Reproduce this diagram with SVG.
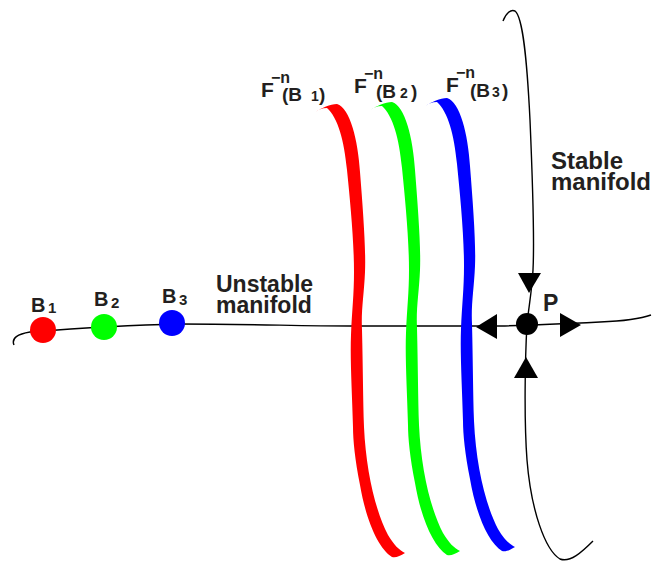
<svg xmlns="http://www.w3.org/2000/svg" xmlns:xlink="http://www.w3.org/1999/xlink" width="663" height="563" viewBox="0 0 663 563">
<style>
text{font-family:"Liberation Sans",Arial,Helvetica,sans-serif;font-weight:bold;fill:#231f20}
.line{fill:none;stroke:#000;stroke-width:1.4}
.arr{fill:#000}
</style>
<defs>
<path id="band" d="M315,112 C322,108 330,104 337,104 C350,108 358,140 360,172 C363,210 366,250 365,272 C364,295 361,310 362,330 C363,370 363,400 364,427 C366,470 375,510 388,535 C394,545 399,550 405,553 C400,556 396,558 392,557 C378,548 366,520 360,485 C355,460 353,440 353,427 C352,390 350,360 351,335 C352,310 354,295 354,272 C354,240 350,200 347,170 C344,140 338,118 327,108 C322,108 318,110 315,112 Z"/>
</defs>
<rect width="663" height="563" fill="#fff"/>
<g id="connectors">
<path class="line" d="M14,345 C11,338 18,334 30,332 C80,328 130,325 180,324 C250,324 300,326 350,326 L500,326 C540,325 560,324 600,322 C625,321 640,319 651,315"/>
<path class="line" d="M503,21 C506,13 511,9 515,11 C523,17 527,60 530,120 C533,190 534,250 533,270 C532,290 529,305 527,324 C525,360 524,420 527,460 C531,510 545,550 560,559 C570,563 582,552 593,541"/>
</g>
<g id="band-B1"><use xlink:href="#band" href="#band" fill="#ff0000"/></g>
<g id="band-B2"><use xlink:href="#band" href="#band" fill="#00ff00" transform="translate(55,-2)"/></g>
<g id="band-B3"><use xlink:href="#band" href="#band" fill="#0000ff" transform="translate(110,-6)"/></g>
<g id="arrows">
<polygon class="arr" points="476,327 497,314 497,339"/>
<polygon class="arr" points="581,325 560,313 560,337"/>
<polygon class="arr" points="529,293 518,273 541,273"/>
<polygon class="arr" points="526,357 514,378 538,378"/>
</g>
<g id="P"><circle cx="527" cy="324" r="11" fill="#000"/><text x="543" y="311" font-size="23">P</text></g>
<g id="B1"><circle cx="43" cy="330" r="13" fill="#ff0000"/><text x="31" y="312" font-size="20">B</text><text x="48" y="313" font-size="15">1</text></g>
<g id="B2"><circle cx="104" cy="327" r="13" fill="#00ff00"/><text x="94" y="306" font-size="20">B</text><text x="111" y="308" font-size="15">2</text></g>
<g id="B3"><circle cx="172" cy="323" r="13" fill="#0000ff"/><text x="162" y="303" font-size="20">B</text><text x="179" y="305" font-size="15">3</text></g>
<g id="label-F1"><text x="261" y="97" font-size="21">F</text><text x="271" y="83" font-size="16">−n</text><text x="282" y="101" font-size="19">(B</text><text x="311" y="101" font-size="14">1</text><text x="319" y="101" font-size="19">)</text></g>
<g id="label-F2"><text x="354" y="93" font-size="21">F</text><text x="364" y="79" font-size="16">−n</text><text x="376" y="98" font-size="19">(B</text><text x="400" y="98" font-size="14">2</text><text x="411" y="98" font-size="19">)</text></g>
<g id="label-F3"><text x="446" y="92" font-size="21">F</text><text x="456" y="78" font-size="16">−n</text><text x="470" y="97" font-size="19">(B</text><text x="492" y="97" font-size="14">3</text><text x="502" y="97" font-size="19">)</text></g>
<g id="unstable-label"><text x="216" y="292" font-size="23">Unstable</text><text x="216" y="313" font-size="23">manifold</text></g>
<g id="stable-label"><text x="551" y="169" font-size="24">Stable</text><text x="551" y="190" font-size="24">manifold</text></g>
</svg>
